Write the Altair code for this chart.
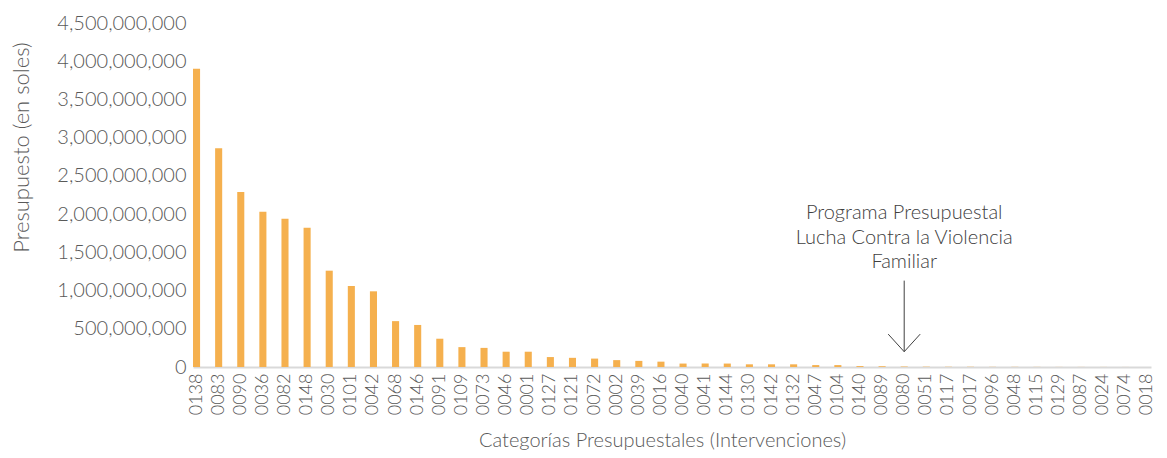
import altair as alt
import pandas as pd

categories = ["0138", "0083", "0090", "0036", "0082", "0148", "0030", "0101", "0042", "0068",
              "0146", "0091", "0109", "0073", "0046", "0001", "0127", "0121", "0072", "0002",
              "0039", "0016", "0040", "0041", "0144", "0130", "0142", "0132", "0047", "0104",
              "0140", "0089", "0080", "0051", "0117", "0017", "0096", "0048", "0115", "0129",
              "0087", "0024", "0074", "0018"]
budget = [3.90e9, 2.86e9, 2.29e9, 2.03e9, 1.94e9, 1.82e9, 1.26e9, 1.06e9, 0.99e9, 0.60e9,
          0.55e9, 0.37e9, 0.26e9, 0.25e9, 0.20e9, 0.20e9, 0.13e9, 0.12e9, 0.11e9, 0.09e9,
          0.08e9, 0.07e9, 0.045e9, 0.045e9, 0.045e9, 0.035e9, 0.035e9, 0.035e9, 0.025e9, 0.025e9,
          0.012e9, 0.010e9, 0.006e9, 0.004e9, 0.003e9, 0.003e9, 0.002e9, 0.002e9, 0.0015e9, 0.001e9,
          0.001e9, 0.0008e9, 0.0005e9, 0.0003e9]
y_ticks = [0, 500000000, 1000000000, 1500000000, 2000000000, 2500000000,
           3000000000, 3500000000, 4000000000, 4500000000]

note_category = "0080"
note_lines = ["Programa Presupuestal", "Lucha Contra la Violencia", "Familiar"]
note_y = 2.01e9
arrow_top = 1.13e9
arrow_tip = 0.2e9

FONT = "Lato"
GRAY = "#595959"

df = pd.DataFrame({"cat": categories, "val": budget})
note_df = pd.DataFrame({"cat": [note_category], "val": [note_y], "label": [note_lines]})
rule_df = pd.DataFrame({"cat": [note_category], "val": [arrow_top], "val2": [arrow_tip]})
head_df = pd.DataFrame({"cat": [note_category], "val": [arrow_tip]})

xenc = alt.X("cat:N", sort=categories,
             scale=alt.Scale(paddingInner=0.68, paddingOuter=0),
             axis=alt.Axis(title="Categorías Presupuestales (Intervenciones)", labelAngle=-90,
                           ticks=False, domainColor="#d9d9d9", domainWidth=2,
                           labelFontSize=18, labelColor=GRAY, labelFont=FONT, labelFontWeight=300,
                           labelPadding=6, labelOverlap=False,
                           titleFontSize=20, titleColor=GRAY, titleFont=FONT, titleFontWeight=300,
                           titleX=469, titleY=73, titleBaseline="middle"))

yenc = alt.Y("val:Q", scale=alt.Scale(domain=[0, 4.5e9]),
             axis=alt.Axis(title="Presupuesto (en soles)", values=y_ticks,
                           format=",d", grid=False, ticks=False, domain=False, labelOverlap=False,
                           labelFontSize=20, labelColor=GRAY, labelFont=FONT, labelFontWeight=300,
                           labelPadding=7,
                           titleFontSize=22, titleColor=GRAY, titleFont=FONT, titleFontWeight=300,
                           titleX=-172, titleY=124, titleBaseline="middle", titleAlign="center"))

bars = alt.Chart(df).mark_bar(color="#F5B04E").encode(x=xenc, y=yenc)

text = alt.Chart(note_df).mark_text(fontSize=20, font=FONT, fontWeight=300, color="#404040",
                                    lineHeight=24.5, align="center", baseline="middle").encode(
    x=xenc, y=yenc, text="label")

rule = alt.Chart(rule_df).mark_rule(color="#404040", strokeWidth=1).encode(
    x=xenc, y=yenc, y2="val2:Q")

head = alt.Chart(head_df).mark_point(shape="M-1,-1.1L0,0L1,-1.1", size=1024, filled=False,
                                     color="#404040", strokeWidth=1, opacity=1).encode(
    x=xenc, y=yenc)

chart = alt.layer(bars, text, rule, head).properties(
    width=958, height=344,
    autosize=alt.AutoSizeParams(type="none"),
    padding={"left": 185, "top": 15, "right": 8, "bottom": 83},
).configure(background="white").configure_view(strokeWidth=0).configure_axis(
    labelOverlap=False
)

chart.save("out.html", embed_options={"renderer": "svg", "actions": False})
